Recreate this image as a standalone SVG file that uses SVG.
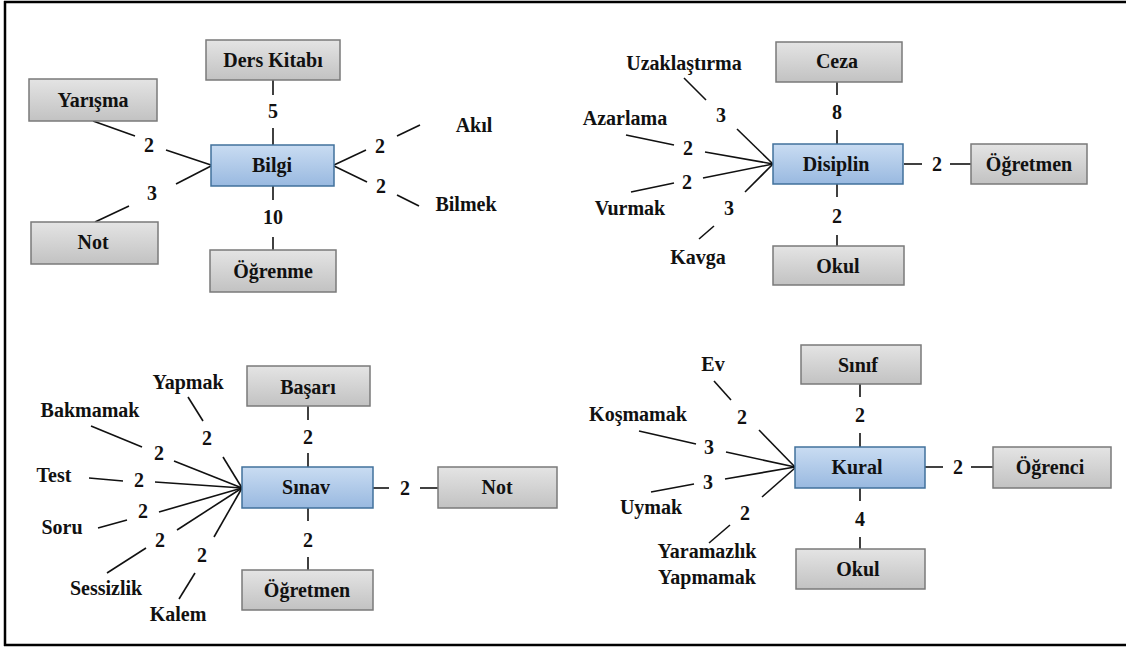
<svg xmlns="http://www.w3.org/2000/svg" width="1126" height="650" viewBox="0 0 1126 650">
<defs>
<linearGradient id="gg" x1="0" y1="0" x2="0" y2="1"><stop offset="0" stop-color="#e4e4e4"/><stop offset="1" stop-color="#c2c2c2"/></linearGradient>
<linearGradient id="bg" x1="0" y1="0" x2="0" y2="1"><stop offset="0" stop-color="#c9dcf2"/><stop offset="1" stop-color="#99b9e0"/></linearGradient>
</defs>
<style>
.g{fill:url(#gg);stroke:#7a7a7a;stroke-width:1.5}
.b{fill:url(#bg);stroke:#41719c;stroke-width:1.5}
.t text{font-weight:bold;font-size:20px;fill:#111;text-anchor:middle}
.c line{stroke:#111;stroke-width:1.6}
</style>
<rect width="1126" height="650" fill="#fff"/>
<g id="frame" stroke="#000" stroke-width="2.5" fill="none">
<line x1="4" y1="2" x2="1126" y2="2"/><line x1="5" y1="1" x2="5" y2="646"/><line x1="4" y1="645" x2="1126" y2="645"/>
</g>
<g class="c" id="connectors">
<line x1="273" y1="80" x2="273" y2="95"/><line x1="273" y1="128" x2="273" y2="145"/>
<line x1="273" y1="186" x2="273" y2="200"/><line x1="273" y1="237" x2="273" y2="250"/>
<line x1="93" y1="121" x2="135" y2="136"/><line x1="166" y1="150" x2="211" y2="165"/>
<line x1="211" y1="166" x2="176" y2="184"/><line x1="129" y1="206" x2="95" y2="222"/>
<line x1="334" y1="165" x2="366" y2="150"/><line x1="397" y1="136" x2="420" y2="125"/>
<line x1="334" y1="166" x2="367" y2="182"/><line x1="397" y1="195" x2="419" y2="206"/>
<line x1="837" y1="82" x2="837" y2="95"/><line x1="837" y1="130" x2="837" y2="144"/>
<line x1="837" y1="184" x2="837" y2="197"/><line x1="837" y1="235" x2="837" y2="246"/>
<line x1="904" y1="164" x2="922" y2="164"/><line x1="950" y1="164" x2="971" y2="164"/>
<line x1="684" y1="78" x2="706" y2="100"/><line x1="737" y1="129" x2="773" y2="164"/>
<line x1="626" y1="135" x2="674" y2="145"/><line x1="705" y1="152" x2="773" y2="164"/>
<line x1="631" y1="192" x2="674" y2="183"/><line x1="703" y1="178" x2="773" y2="164"/>
<line x1="699" y1="239" x2="714" y2="226"/><line x1="745" y1="192" x2="773" y2="164"/>
<line x1="308" y1="406" x2="308" y2="420"/><line x1="308" y1="453" x2="308" y2="467"/>
<line x1="308" y1="508" x2="308" y2="521"/><line x1="308" y1="557" x2="308" y2="570"/>
<line x1="373" y1="488" x2="389" y2="488"/><line x1="420" y1="488" x2="438" y2="488"/>
<line x1="188" y1="397" x2="203" y2="421"/><line x1="223" y1="457" x2="242" y2="488"/>
<line x1="91" y1="426" x2="142" y2="447"/><line x1="174" y1="461" x2="242" y2="488"/>
<line x1="89" y1="478" x2="123" y2="481"/><line x1="155" y1="482" x2="242" y2="488"/>
<line x1="98" y1="528" x2="127" y2="520"/><line x1="159" y1="512" x2="242" y2="488"/>
<line x1="107" y1="573" x2="146" y2="548"/><line x1="177" y1="530" x2="242" y2="488"/>
<line x1="179" y1="599" x2="195" y2="573"/><line x1="214" y1="537" x2="242" y2="488"/>
<line x1="860" y1="384" x2="860" y2="397"/><line x1="860" y1="433" x2="860" y2="447"/>
<line x1="860" y1="488" x2="860" y2="501"/><line x1="860" y1="537" x2="860" y2="549"/>
<line x1="925" y1="467" x2="943" y2="467"/><line x1="971" y1="467" x2="993" y2="467"/>
<line x1="714" y1="381" x2="731" y2="400"/><line x1="759" y1="430" x2="795" y2="467"/>
<line x1="639" y1="431" x2="696" y2="444"/><line x1="726" y1="452" x2="795" y2="467"/>
<line x1="651" y1="492" x2="694" y2="484"/><line x1="725" y1="479" x2="795" y2="467"/>
<line x1="709" y1="543" x2="730" y2="525"/><line x1="762" y1="497" x2="795" y2="468"/>
</g>
<g class="t" font-family="Liberation Serif, Times New Roman, serif">
<g id="labels">
<text x="273" y="118">5</text><text x="273" y="224">10</text>
<text x="149" y="152">2</text><text x="152" y="200">3</text>
<text x="380" y="153">2</text><text x="381" y="193">2</text>
<text x="474" y="132">Akıl</text><text x="466" y="211">Bilmek</text>
<text x="837" y="119">8</text><text x="837" y="223">2</text><text x="937" y="171">2</text>
<text x="721" y="122">3</text><text x="688" y="155">2</text><text x="687" y="189">2</text><text x="729" y="215">3</text>
<text x="684" y="70">Uzaklaştırma</text><text x="625" y="125">Azarlama</text><text x="630" y="215">Vurmak</text><text x="698" y="264">Kavga</text>
<text x="308" y="444">2</text><text x="308" y="547">2</text><text x="405" y="495">2</text>
<text x="207" y="445">2</text><text x="159" y="460">2</text><text x="139" y="487">2</text><text x="143" y="518">2</text><text x="160" y="547">2</text><text x="202" y="562">2</text>
<text x="188" y="389">Yapmak</text><text x="90" y="417">Bakmamak</text><text x="54" y="482">Test</text><text x="62" y="534">Soru</text><text x="106" y="595">Sessizlik</text><text x="178" y="621">Kalem</text>
<text x="860" y="422">2</text><text x="860" y="526">4</text><text x="958" y="474">2</text>
<text x="742" y="424">2</text><text x="709" y="454">3</text><text x="708" y="489">3</text><text x="745" y="520">2</text>
<text x="713" y="371">Ev</text><text x="638" y="421">Koşmamak</text><text x="651" y="514">Uymak</text><text x="707" y="558">Yaramazlık</text><text x="707" y="584">Yapmamak</text>
</g>
<g id="n-derskitabi"><rect class="g" x="206" y="40" width="134" height="40"/><text x="273" y="67">Ders Kitabı</text></g>
<g id="n-yarisma"><rect class="g" x="29" y="79" width="128" height="42"/><text x="93" y="107">Yarışma</text></g>
<g id="n-not1"><rect class="g" x="31" y="222" width="127" height="42"/><text x="93" y="249">Not</text></g>
<g id="n-bilgi"><rect class="b" x="211" y="145" width="123" height="41"/><text x="272" y="172">Bilgi</text></g>
<g id="n-ogrenme"><rect class="g" x="210" y="250" width="126" height="42"/><text x="273" y="278">Öğrenme</text></g>
<g id="n-ceza"><rect class="g" x="776" y="42" width="126" height="40"/><text x="837" y="68">Ceza</text></g>
<g id="n-disiplin"><rect class="b" x="773" y="144" width="130" height="40"/><text x="836" y="171">Disiplin</text></g>
<g id="n-ogretmen1"><rect class="g" x="971" y="144" width="116" height="40"/><text x="1029" y="171">Öğretmen</text></g>
<g id="n-okul1"><rect class="g" x="773" y="246" width="131" height="39"/><text x="838" y="273">Okul</text></g>
<g id="n-basari"><rect class="g" x="247" y="366" width="123" height="40"/><text x="308" y="394">Başarı</text></g>
<g id="n-sinav"><rect class="b" x="242" y="467" width="131" height="41"/><text x="306" y="494">Sınav</text></g>
<g id="n-not2"><rect class="g" x="438" y="467" width="119" height="41"/><text x="497" y="494">Not</text></g>
<g id="n-ogretmen2"><rect class="g" x="242" y="570" width="131" height="40"/><text x="307" y="597">Öğretmen</text></g>
<g id="n-sinif"><rect class="g" x="801" y="345" width="120" height="39"/><text x="858" y="372">Sınıf</text></g>
<g id="n-kural"><rect class="b" x="795" y="447" width="130" height="41"/><text x="857" y="474">Kural</text></g>
<g id="n-ogrenci"><rect class="g" x="993" y="447" width="118" height="41"/><text x="1050" y="474">Öğrenci</text></g>
<g id="n-okul2"><rect class="g" x="796" y="549" width="129" height="40"/><text x="858" y="576">Okul</text></g>
</g>
</svg>
